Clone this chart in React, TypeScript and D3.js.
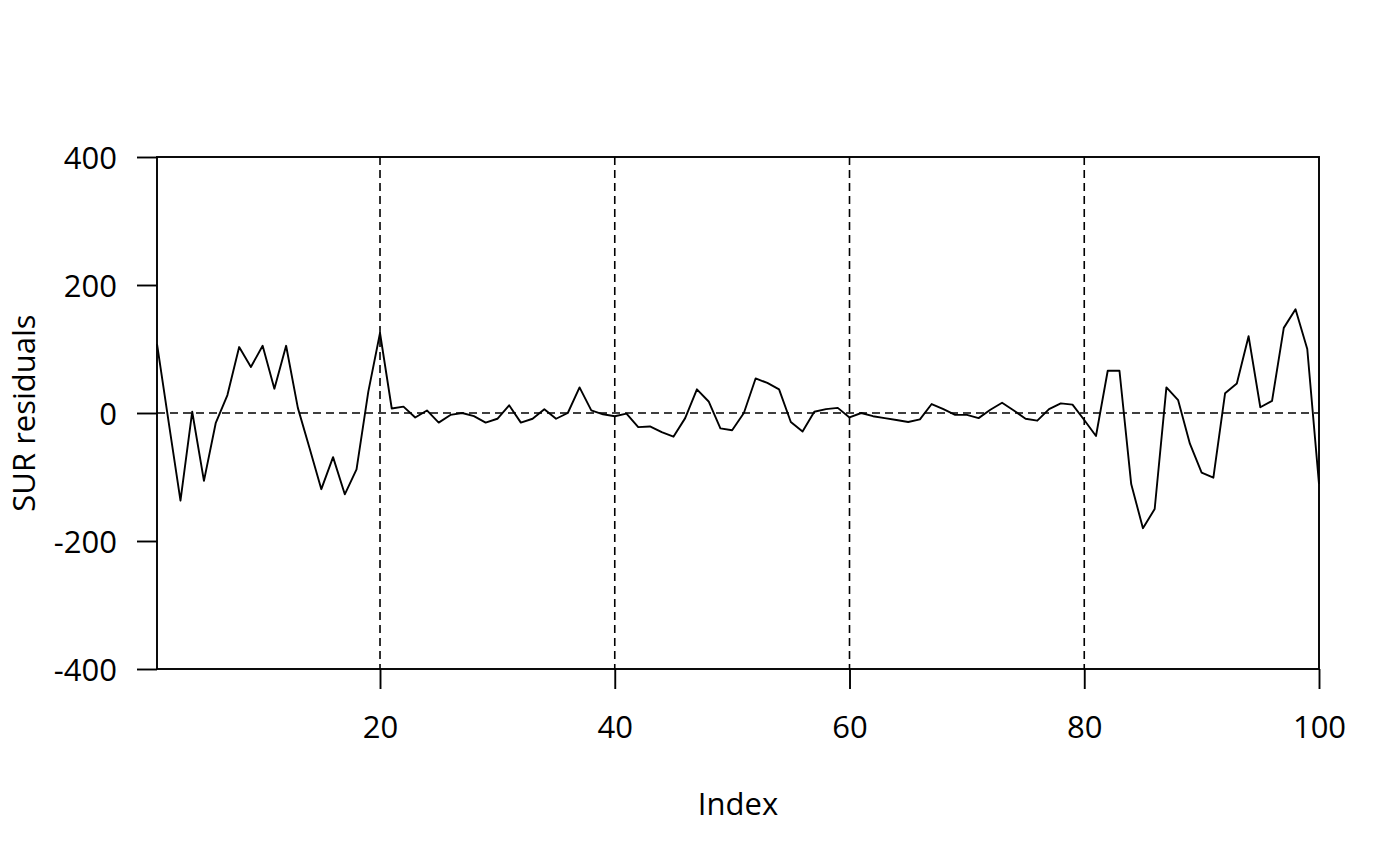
import React, { useRef, useEffect } from "react";
import * as d3 from "d3";

// SUR residuals by observation index (1..100)
const residuals: number[] = [
  108, -15, -137, 2, -106, -16, 28, 103, 72, 105,
  38, 105, 8, -55, -119, -69, -127, -88, 33, 125,
  7, 10, -7, 4, -15, -3, 0, -5, -15, -9,
  12, -15, -9, 6, -9, 0, 40, 4, -2, -5,
  -1, -22, -21, -30, -37, -8, 37, 18, -24, -27,
  0, 54, 47, 37, -14, -29, 2, 6, 8, -7,
  0, -5, -8, -11, -14, -10, 14, 6, -3, -3,
  -8, 5, 16, 4, -9, -12, 6, 15, 13, -11,
  -36, 66, 66, -111, -180, -150, 40, 20, -48, -93,
  -101, 31, 46, 120, 9, 19, 133, 162, 100, -111,
];
const xTicks: number[] = [20, 40, 60, 80, 100];
const yTicks: number[] = [-400, -200, 0, 200, 400];
const vGuides: number[] = [20, 40, 60, 80];

const W = 1400;
const H = 866;
const FONT = "'Open Sans', 'Noto Sans', sans-serif";
const FS = 31;

export default function App() {
  const svgRef = useRef<SVGSVGElement>(null);

  useEffect(() => {
    if (!svgRef.current) return;
    const svg = d3.select(svgRef.current);
    svg.selectAll("*").remove();

    const left = 157, right = 1319, top = 157, bottom = 669;
    const x = d3.scaleLinear().domain([1, 100]).range([left, right]);
    const y = d3.scaleLinear().domain([-400, 400]).range([bottom, top]);

    // dashed guides
    const g = svg.append("g")
      .attr("stroke", "#000")
      .attr("stroke-width", 1.6)
      .attr("stroke-dasharray", "8,5")
      .attr("fill", "none");
    g.selectAll(".v")
      .data(vGuides)
      .enter()
      .append("line")
      .attr("x1", d => x(d))
      .attr("x2", d => x(d))
      .attr("y1", top)
      .attr("y2", bottom);
    g.append("line")
      .attr("x1", left)
      .attr("x2", right)
      .attr("y1", y(0))
      .attr("y2", y(0));

    // residual line
    const line = d3.line<number>()
      .x((_, i) => x(i + 1))
      .y(d => y(d));
    svg.append("path")
      .datum(residuals)
      .attr("d", line)
      .attr("fill", "none")
      .attr("stroke", "#000")
      .attr("stroke-width", 1.9)
      .attr("stroke-linejoin", "round");

    // box
    svg.append("rect")
      .attr("x", left)
      .attr("y", top)
      .attr("width", right - left)
      .attr("height", bottom - top)
      .attr("fill", "none")
      .attr("stroke", "#000")
      .attr("stroke-width", 1.9);

    // y axis
    const yAxis = svg.append("g")
      .attr("transform", `translate(${left},0)`)
      .call(d3.axisLeft(y).tickValues(yTicks).tickSize(20).tickPadding(20).tickFormat(d => String(d)));
    yAxis.select(".domain").remove();
    yAxis.selectAll("line").attr("stroke-width", 1.9);
    yAxis.selectAll("text")
      .attr("font-family", FONT)
      .attr("font-size", FS)
      .attr("fill", "#000")
      .attr("dy", "0.36em");

    // x axis
    const xAxis = svg.append("g")
      .attr("transform", `translate(0,${bottom})`)
      .call(d3.axisBottom(x).tickValues(xTicks).tickSize(20).tickPadding(0).tickFormat(d => String(d)));
    xAxis.select(".domain").remove();
    xAxis.selectAll("line").attr("stroke-width", 1.9);
    xAxis.selectAll("text")
      .attr("font-family", FONT)
      .attr("font-size", FS)
      .attr("fill", "#000")
      .attr("dy", null)
      .attr("y", 738 - bottom);

    // axis titles
    svg.append("text")
      .attr("x", (left + right) / 2)
      .attr("y", 815)
      .attr("text-anchor", "middle")
      .attr("font-family", FONT)
      .attr("font-size", FS)
      .text("Index");
    svg.append("text")
      .attr("transform", `translate(35,${(top + bottom) / 2}) rotate(-90)`)
      .attr("text-anchor", "middle")
      .attr("font-family", FONT)
      .attr("font-size", FS)
      .text("SUR residuals");
  }, []);

  return (
    <svg
      ref={svgRef}
      width={W}
      height={H}
      style={{ position: "absolute", left: 0, top: 0, background: "#fff" }}
    />
  );
}
